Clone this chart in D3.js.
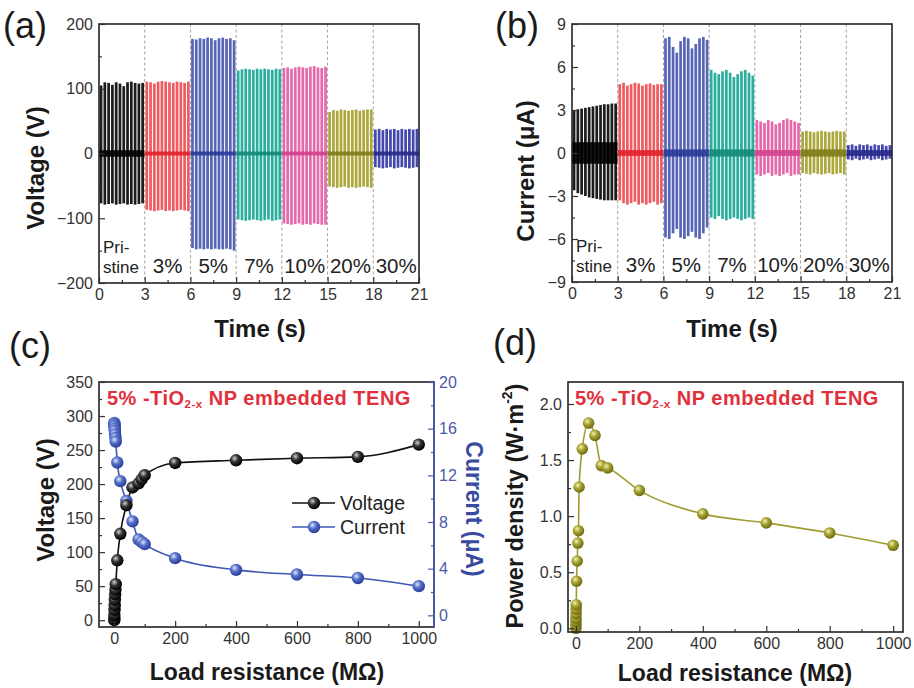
<!DOCTYPE html>
<html><head><meta charset="utf-8">
<script src="https://cdn.jsdelivr.net/npm/d3@7"></script>
<style>body{margin:0;background:#fff}svg{display:block}text{font-family:"Liberation Sans",Arial,sans-serif}</style>
</head><body><svg id="chart" width="914" height="688"></svg>
<script>
// ---------- data ----------
const segmentLabels = ["Pristine","3%","5%","7%","10%","20%","30%"];
const segmentStarts = [0,3,6,9,12,15,18];
const segmentColors = ["#1c1c1c","#ee5c62","#5866b6","#2aae9e","#e56aac","#aca83e","#4548ac"];
const segmentBaseColors = ["#000000","#e0202a","#2a3a9a","#138878","#d0408a","#7d7a18","#26288a"];
const timeTicks = [0,3,6,9,12,15,18,21];
const voltageTicks = [-200,-100,0,100,200];
const currentTicks = [-9,-6,-3,0,3,6,9];

const voltagePos = [
  [105,110,109,106,110,108,104,110,111,109,108,109],
  [111,110,108,111,112,111,110,109,111,110,109,111],
  [177,176,178,177,179,178,175,178,179,177,178,175],
  [128,130,131,130,129,131,130,131,130,129,131,130],
  [132,133,131,133,134,133,132,134,135,133,132,134],
  [64,67,66,68,67,66,67,68,66,67,68,68],
  [37,38,36,38,37,38,36,38,37,38,37,38]
];
const voltageNeg = [
  [-77,-79,-78,-77,-79,-78,-77,-79,-78,-79,-78,-77],
  [-87,-88,-89,-88,-87,-89,-88,-89,-88,-87,-88,-89],
  [-146,-148,-147,-148,-147,-148,-147,-148,-148,-147,-148,-150],
  [-102,-103,-104,-103,-102,-103,-104,-103,-102,-104,-103,-102],
  [-108,-109,-110,-109,-108,-110,-109,-110,-108,-109,-110,-110],
  [-51,-52,-53,-52,-51,-53,-52,-53,-52,-51,-52,-53],
  [-21,-22,-23,-22,-21,-23,-22,-21,-22,-23,-22,-21]
];
const voltageNoise = [5,3,3,3,3,3,3];

const currentPos = [
  [2.95,3.05,3.1,3.15,3.2,3.25,3.3,3.35,3.4,3.4,3.45,3.45],
  [4.8,4.9,4.7,4.8,4.9,4.85,4.7,4.8,4.85,4.75,4.8,4.8],
  [8.0,8.1,7.4,7.0,7.8,8.1,8.0,7.3,7.6,8.0,8.1,7.9],
  [5.8,5.6,5.5,5.7,5.8,5.6,5.3,5.5,5.7,5.8,5.6,5.4],
  [2.3,2.2,2.1,2.3,2.2,2.0,2.1,2.3,2.4,2.3,2.2,2.1],
  [1.5,1.55,1.5,1.45,1.5,1.55,1.5,1.45,1.5,1.55,1.5,1.5],
  [0.55,0.6,0.5,0.6,0.55,0.6,0.5,0.6,0.55,0.6,0.5,0.55]
];
const currentNeg = [
  [-2.6,-2.8,-2.9,-3.0,-3.1,-3.15,-3.2,-3.25,-3.3,-3.3,-3.3,-3.3],
  [-3.3,-3.5,-3.6,-3.5,-3.4,-3.6,-3.5,-3.6,-3.5,-3.4,-3.6,-3.5],
  [-5.9,-6.0,-5.6,-5.3,-5.9,-6.0,-5.8,-5.5,-5.9,-6.0,-5.6,-5.2],
  [-4.5,-4.6,-4.4,-4.6,-4.7,-4.6,-4.5,-4.6,-4.7,-4.6,-4.5,-4.6],
  [-1.5,-1.6,-1.5,-1.4,-1.6,-1.5,-1.6,-1.5,-1.4,-1.6,-1.5,-1.5],
  [-1.4,-1.45,-1.5,-1.4,-1.45,-1.5,-1.45,-1.4,-1.5,-1.45,-1.4,-1.5],
  [-0.45,-0.5,-0.4,-0.5,-0.45,-0.4,-0.5,-0.45,-0.4,-0.5,-0.45,-0.4]
];
const currentNoise = [0.75,0.2,0.25,0.25,0.2,0.25,0.2];

const resistanceC = [0.1,0.3,0.5,1,1.5,2,3,4,5,10,20,40,60,80,90,100,200,400,600,800,1000];
const voltageC = [0,3,8,15,22,30,38,45,53,88,127,169,195,201,207,213,231,235,238,240,258];
const currentC = [16.5,16.4,16.3,16.2,16.0,15.8,15.5,15.2,14.9,13.1,11.5,9.8,8.05,6.5,6.3,6.1,4.9,3.9,3.5,3.2,2.5];
const resistanceTicks = [0,200,400,600,800,1000];
const voltageCTicks = [0,50,100,150,200,250,300,350];
const currentCTicks = [0,4,8,12,16,20];

const resistanceD = [0.05,0.1,0.2,0.3,0.5,0.7,1,2,4,6,8,10,20,40,60,80,100,200,400,600,800,1000];
const powerD = [0.0,0.03,0.06,0.09,0.13,0.17,0.21,0.42,0.60,0.76,0.87,1.26,1.60,1.83,1.72,1.45,1.43,1.23,1.02,0.94,0.85,0.74];
const powerTicks = [0,0.5,1.0,1.5,2.0];

// ---------- setup ----------
const svg = d3.select("#chart");
const defs = svg.append("defs");
function sphere(id, c0, c1, c2){
  const g = defs.append("radialGradient").attr("id",id).attr("cx","38%").attr("cy","35%").attr("r","65%");
  g.append("stop").attr("offset","0%").attr("stop-color",c0);
  g.append("stop").attr("offset","45%").attr("stop-color",c1);
  g.append("stop").attr("offset","100%").attr("stop-color",c2);
}
sphere("gBlack","#d0d0d0","#333","#000");
sphere("gBlue","#dfe6ff","#5470c8","#2a3c96");
sphere("gOlive","#f4f2b0","#a8a435","#6d6a10");

const FONT = '"Liberation Sans",Arial,sans-serif';
const tickColor = "#333";
const TICK_FS = 16;

function styleAxis(sel, size, color){
  sel.select(".domain").remove();
  sel.selectAll("line").attr("stroke", color).attr("stroke-width", 1.2);
  sel.selectAll("text").attr("font-size", size).attr("fill", color).attr("font-family", FONT);
}
function frame(p, color){
  svg.append("rect").attr("x",p.x0).attr("y",p.y0).attr("width",p.x1-p.x0).attr("height",p.y1-p.y0)
    .attr("fill","none").attr("stroke",color||"#222").attr("stroke-width",1.6);
}
function minor(major){
  const out=[];for(let i=0;i<major.length-1;i++) out.push((major[i]+major[i+1])/2);return out;
}
function bottomAxis(p, x, ticks, fmt, minors){
  const g = svg.append("g").attr("transform",`translate(0,${p.y1})`);
  g.call(d3.axisBottom(x).tickValues(ticks).tickSize(-6).tickPadding(6).tickFormat(fmt||d3.format("d")));
  styleAxis(g, TICK_FS, tickColor);
  const m = svg.append("g").attr("transform",`translate(0,${p.y1})`);
  m.call(d3.axisBottom(x).tickValues(minors).tickSize(-3).tickFormat(""));
  styleAxis(m, TICK_FS, tickColor);
}
function leftAxis(p, y, ticks, fmt, minors){
  const g = svg.append("g").attr("transform",`translate(${p.x0},0)`);
  g.call(d3.axisLeft(y).tickValues(ticks).tickSize(-6).tickPadding(6).tickFormat(fmt||d3.format("d")));
  styleAxis(g, TICK_FS, tickColor);
  const m = svg.append("g").attr("transform",`translate(${p.x0},0)`);
  m.call(d3.axisLeft(y).tickValues(minors).tickSize(-3).tickFormat(""));
  styleAxis(m, TICK_FS, tickColor);
}
function title(x, y, txt, size, rot, color){
  const t = svg.append("text").attr("x",x).attr("y",y).attr("text-anchor","middle")
    .attr("dominant-baseline","central").attr("font-size",size).attr("font-weight","bold")
    .attr("fill",color||"#1a1a1a").attr("font-family",FONT).text(txt);
  if(rot) t.attr("transform",`rotate(${rot},${x},${y})`);
  return t;
}
function panelLabel(x, y, txt){
  svg.append("text").attr("x",x).attr("y",y).attr("font-size",36).attr("fill","#1a1a1a").attr("font-family",FONT).text(txt);
}

// ---------- time-series panels ----------
function timePanel(p, yDomain, yTicks, pos, neg, noise){
  const x = d3.scaleLinear().domain([0,21]).range([p.x0,p.x1]);
  const y = d3.scaleLinear().domain(yDomain).range([p.y1,p.y0]);
  segmentStarts.forEach((s,i)=>{
    const band = d3.scaleBand().domain(d3.range(pos[i].length)).range([x(s)+0.5,x(s+3)-0.5]).paddingInner(0.28).paddingOuter(0.05);
    svg.append("g").selectAll("rect").data(pos[i]).join("rect")
      .attr("x",(d,j)=>band(j)).attr("width",band.bandwidth())
      .attr("y",d=>y(d)).attr("height",(d,j)=>y(neg[i][j])-y(d))
      .attr("fill",segmentColors[i]);
    svg.append("rect").attr("x",x(s)).attr("width",x(s+3)-x(s))
      .attr("y",y(noise[i])).attr("height",y(-noise[i])-y(noise[i]))
      .attr("fill",segmentBaseColors[i]).attr("opacity",0.9);
  });
  svg.append("g").selectAll("line").data(segmentStarts.slice(1)).join("line")
    .attr("x1",d=>x(d)).attr("x2",d=>x(d)).attr("y1",p.y0).attr("y2",p.y1)
    .attr("stroke","#9a9a9a").attr("stroke-width",0.9).attr("stroke-dasharray","3,2.5");
  frame(p);
  bottomAxis(p, x, timeTicks, d3.format("d"), minor(timeTicks));
  leftAxis(p, y, yTicks, d3.format("d"), minor(yTicks));
  segmentLabels.forEach((lab,i)=>{
    if(i===0){
      svg.append("text").attr("x",x(0)+4).attr("y",p.y1-36).attr("dominant-baseline","central")
        .attr("font-size",17).attr("fill","#222").attr("font-family",FONT).text("Pri-");
      svg.append("text").attr("x",x(0)+4).attr("y",p.y1-16).attr("dominant-baseline","central")
        .attr("font-size",17).attr("fill","#222").attr("font-family",FONT).text("stine");
    } else {
      svg.append("text").attr("x",x(segmentStarts[i]+1.5)).attr("y",p.y1-18).attr("text-anchor","middle")
        .attr("dominant-baseline","central").attr("font-size",20.5).attr("fill","#222").attr("font-family",FONT).text(lab);
    }
  });
  return {x,y};
}

const pa = {x0:99,x1:419,y0:24,y1:283};
const pb = {x0:572,x1:892,y0:24,y1:282};
timePanel(pa, [-200,200], voltageTicks, voltagePos, voltageNeg, voltageNoise);
timePanel(pb, [-9,9], currentTicks, currentPos, currentNeg, currentNoise);
title(260, 328, "Time (s)", 24);
title(35, 168, "Voltage (V)", 24, -90);
title(732, 328, "Time (s)", 24);
title(525, 171, "Current (μA)", 24, -90);
panelLabel(3, 38, "(a)");
panelLabel(495, 38, "(b)");

// ---------- panel (c) ----------
const pc = {x0:99,x1:434,y0:382,y1:627};
const xc = d3.scaleLinear().domain([-50,1050]).range([pc.x0,pc.x1]);
const ycL = d3.scaleLinear().domain([-10,350]).range([pc.y1,pc.y0]);
const ycR = d3.scaleLinear().domain([-1,20]).range([pc.y1,pc.y0]);
const blue = "#3e56b4";
const blueAxis = "#4a5aa8";

const vPts = resistanceC.map((r,i)=>[r,voltageC[i]]);
const iPts = resistanceC.map((r,i)=>[r,currentC[i]]);
svg.append("path").datum(iPts).attr("fill","none").attr("stroke",blue).attr("stroke-width",1.6)
  .attr("d",d3.line().x(d=>xc(d[0])).y(d=>ycR(d[1])).curve(d3.curveMonotoneX));
svg.append("path").datum(vPts).attr("fill","none").attr("stroke","#111").attr("stroke-width",1.6)
  .attr("d",d3.line().x(d=>xc(d[0])).y(d=>ycL(d[1])).curve(d3.curveMonotoneX));
svg.append("g").selectAll("circle").data(iPts).join("circle")
  .attr("cx",d=>xc(d[0])).attr("cy",d=>ycR(d[1])).attr("r",6.2).attr("fill","url(#gBlue)");
svg.append("g").selectAll("circle").data(vPts).join("circle")
  .attr("cx",d=>xc(d[0])).attr("cy",d=>ycL(d[1])).attr("r",6.2).attr("fill","url(#gBlack)");

svg.append("rect").attr("x",pc.x0).attr("y",pc.y0).attr("width",pc.x1-pc.x0).attr("height",pc.y1-pc.y0)
  .attr("fill","none").attr("stroke","#222").attr("stroke-width",1.6);
svg.append("line").attr("x1",pc.x1).attr("x2",pc.x1).attr("y1",pc.y0).attr("y2",pc.y1).attr("stroke",blueAxis).attr("stroke-width",1.8);
bottomAxis(pc, xc, resistanceTicks, d3.format("d"), minor(resistanceTicks));
leftAxis(pc, ycL, voltageCTicks, d3.format("d"), minor(voltageCTicks));
{
  const g = svg.append("g").attr("transform",`translate(${pc.x1},0)`);
  g.call(d3.axisRight(ycR).tickValues(currentCTicks).tickSize(-6).tickPadding(5));
  styleAxis(g, TICK_FS, blueAxis);
  const m = svg.append("g").attr("transform",`translate(${pc.x1},0)`);
  m.call(d3.axisRight(ycR).tickValues(minor(currentCTicks)).tickSize(-3).tickFormat(""));
  styleAxis(m, TICK_FS, blueAxis);
}
[["Voltage","url(#gBlack)","#111",503],["Current","url(#gBlue)",blue,527]].forEach(l=>{
  svg.append("line").attr("x1",292).attr("x2",335).attr("y1",l[3]).attr("y2",l[3]).attr("stroke",l[2]).attr("stroke-width",1.6);
  svg.append("circle").attr("cx",314).attr("cy",l[3]).attr("r",6.2).attr("fill",l[1]);
  svg.append("text").attr("x",340).attr("y",l[3]).attr("dominant-baseline","central").attr("font-size",19.5)
    .attr("fill","#222").attr("font-family",FONT).text(l[0]);
});
function annotation(x, y){
  const t = svg.append("text").attr("x",x).attr("y",y).attr("dominant-baseline","central")
    .attr("font-size",20).attr("font-weight","bold").attr("fill","#e0303c").attr("font-family",FONT)
    .attr("letter-spacing",0.5);
  t.append("tspan").text("5% -TiO");
  t.append("tspan").attr("font-size",11.5).attr("dy",6).text("2-x");
  t.append("tspan").attr("dy",-6).text(" NP embedded TENG");
}
annotation(107, 398);
title(267, 672, "Load resistance (MΩ)", 23);
title(45, 500, "Voltage (V)", 24, -90);
title(474, 509, "Current (μA)", 23, 90, "#3a4aa0");
panelLabel(9, 358, "(c)");

// ---------- panel (d) ----------
const pd = {x0:568,x1:903,y0:382,y1:632};
const xd = d3.scaleLinear().domain([-25,1031]).range([pd.x0,pd.x1]);
const yd = d3.scaleLinear().domain([-0.033,2.196]).range([pd.y1,pd.y0]);
const olive = "#a09c30";
const pPts = resistanceD.map((r,i)=>[r,powerD[i]]);
svg.append("path").datum(pPts).attr("fill","none").attr("stroke",olive).attr("stroke-width",1.6)
  .attr("d",d3.line().x(d=>xd(d[0])).y(d=>yd(d[1])).curve(d3.curveMonotoneX));
svg.append("g").selectAll("circle").data(pPts).join("circle")
  .attr("cx",d=>xd(d[0])).attr("cy",d=>yd(d[1])).attr("r",5.8).attr("fill","url(#gOlive)");
frame(pd);
bottomAxis(pd, xd, resistanceTicks, d3.format("d"), minor(resistanceTicks));
leftAxis(pd, yd, powerTicks, d3.format(".1f"), minor(powerTicks));
annotation(575, 398);
title(735, 673, "Load resistance (MΩ)", 23);
{
  const x=515, y=506;
  const t = svg.append("text").attr("x",x).attr("y",y).attr("text-anchor","middle")
    .attr("dominant-baseline","central").attr("font-size",23.5).attr("font-weight","bold")
    .attr("fill","#1a1a1a").attr("font-family",FONT).attr("transform",`rotate(-90,${x},${y})`);
  t.append("tspan").text("Power density (W·m");
  t.append("tspan").attr("font-size",14).attr("dy",-8).text("-2");
  t.append("tspan").attr("dy",8).text(")");
}
panelLabel(493, 355, "(d)");
</script></body></html>
